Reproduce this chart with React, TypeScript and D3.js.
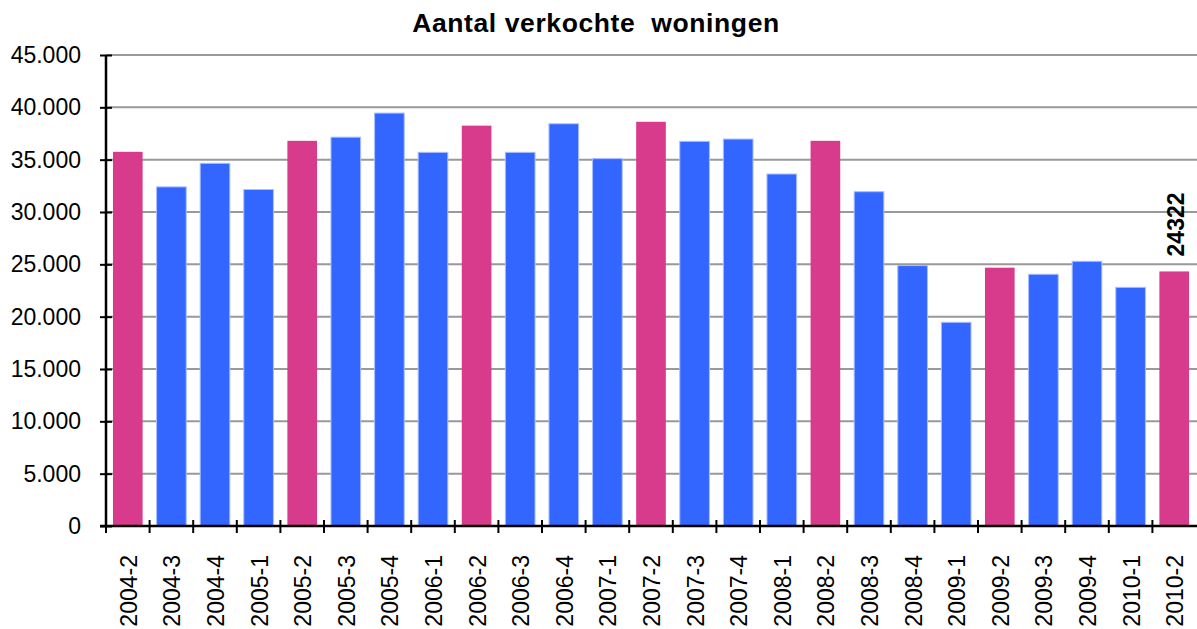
import { useEffect, useRef } from 'react';
import * as d3 from 'd3';

const quarters = [
  '2004-2', '2004-3', '2004-4', '2005-1', '2005-2', '2005-3', '2005-4', '2006-1',
  '2006-2', '2006-3', '2006-4', '2007-1', '2007-2', '2007-3', '2007-4', '2008-1',
  '2008-2', '2008-3', '2008-4', '2009-1', '2009-2', '2009-3', '2009-4', '2010-1', '2010-2',
];
const sales = [
  35750, 32400, 34650, 32150, 36800, 37150, 39450, 35700,
  38250, 35700, 38430, 35100, 38620, 36750, 36970, 33630,
  36800, 31940, 24880, 19460, 24680, 24050, 25290, 22800, 24322,
];
const yTicks = [0, 5000, 10000, 15000, 20000, 25000, 30000, 35000, 40000, 45000];
const title = 'Aantal verkochte  woningen';
const labelledQuarter = '2010-2';

const App: React.FC = () => {
  const svgRef = useRef<SVGSVGElement | null>(null);

  useEffect(() => {
    if (!svgRef.current) return;
    const width = 1197;
    const height = 629;
    const margin = { top: 55, right: 1, bottom: 103, left: 106 };
    const font = 'Arial, "Liberation Sans", Helvetica, sans-serif';

    const svg = d3.select(svgRef.current);
    svg.selectAll('*').remove();
    svg.attr('width', width).attr('height', height);

    const x = d3
      .scaleBand<string>()
      .domain(quarters)
      .range([margin.left, width - margin.right])
      .paddingInner(0.32)
      .paddingOuter(0.16);
    const y = d3
      .scaleLinear()
      .domain([0, 45000])
      .range([height - margin.bottom, margin.top]);

    // gridlines
    svg.append('g')
      .selectAll('line')
      .data(yTicks.filter((t) => t > 0))
      .join('line')
      .attr('x1', margin.left)
      .attr('x2', width)
      .attr('y1', (d) => y(d))
      .attr('y2', (d) => y(d))
      .attr('stroke', '#999')
      .attr('stroke-width', 2);

    // bars (Q2 highlighted)
    svg.append('g')
      .selectAll('rect')
      .data(quarters)
      .join('rect')
      .attr('x', (d) => x(d)!)
      .attr('width', x.bandwidth())
      .attr('y', (_, i) => y(sales[i]))
      .attr('height', (_, i) => y(0) - y(sales[i]))
      .attr('fill', (d) => (d.endsWith('-2') ? '#D83B8C' : '#3366FF'))
      .attr('stroke', (d) => (d.endsWith('-2') ? 'none' : '#A9BEFF'))
      .attr('stroke-width', 1);

    // y axis
    const yAxis = svg.append('g')
      .attr('transform', `translate(${margin.left},0)`)
      .call(
        d3.axisLeft(y)
          .tickValues(yTicks)
          .tickSize(6)
          .tickPadding(19)
          .tickFormat((d) => (d === 0 ? '0' : d3.format(',')(d as number).replace(/,/g, '.')))
      );
    yAxis.select('.domain').attr('stroke', '#000').attr('stroke-width', 2.5).attr('d', `M0,${y(45000)}V${y(0)}`);
    yAxis.selectAll('.tick line').attr('x1', -6).attr('x2', 6).attr('stroke', '#000').attr('stroke-width', 2);
    yAxis.selectAll('text').attr('font-family', font).attr('font-size', 23).attr('fill', '#000');

    // x axis
    const xAxis = svg.append('g')
      .attr('transform', `translate(0,${y(0)})`)
      .call(d3.axisBottom(x).tickSize(0).tickPadding(0));
    xAxis.select('.domain').remove();
    xAxis.append('line')
      .attr('x1', margin.left - 6)
      .attr('x2', width)
      .attr('stroke', '#000')
      .attr('stroke-width', 2.5);
    xAxis.selectAll('.tickmark')
      .data(quarters)
      .join('line')
      .attr('class', 'tickmark')
      .attr('x1', (d) => x(d)! - (x.step() * x.paddingInner()) / 2)
      .attr('x2', (d) => x(d)! - (x.step() * x.paddingInner()) / 2)
      .attr('y1', -6)
      .attr('y2', 7)
      .attr('stroke', '#000')
      .attr('stroke-width', 2);
    xAxis.selectAll('.tick text')
      .attr('font-family', font)
      .attr('font-size', 23)
      .attr('fill', '#000')
      .attr('text-anchor', 'end')
      .attr('dy', '0.35em')
      .attr('transform', 'translate(1,29) rotate(-90)');

    // data label
    const li = quarters.indexOf(labelledQuarter);
    svg.append('text')
      .attr('transform', `translate(${x(labelledQuarter)! + x.bandwidth() / 2 + 2},${y(sales[li]) - 15}) rotate(-90)`)
      .attr('dy', '0.35em')
      .attr('font-family', font)
      .attr('font-weight', 'bold')
      .attr('font-size', 23)
      .text(String(sales[li]));

    // title
    svg.append('text')
      .attr('x', 596)
      .attr('y', 32)
      .attr('text-anchor', 'middle')
      .attr('font-family', font)
      .attr('font-weight', 'bold')
      .attr('font-size', 26.5)
      .attr('letter-spacing', 0.6)
      .style('white-space', 'pre')
      .text(title);
  }, []);

  return (
    <div style={{ position: 'absolute', left: 0, top: 0 }}>
      <svg ref={svgRef}></svg>
    </div>
  );
};

export default App;
